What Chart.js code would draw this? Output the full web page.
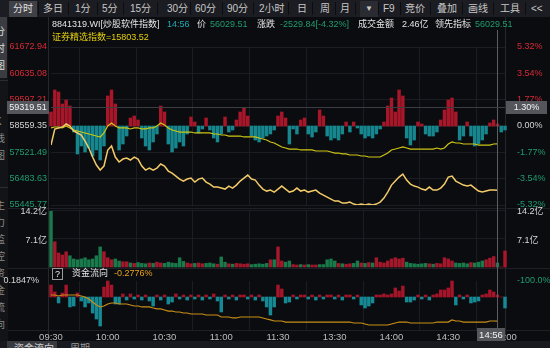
<!DOCTYPE html>
<html>
<head>
<meta charset="utf-8">
<script src="https://cdn.jsdelivr.net/npm/chart.js@4.4.1/dist/chart.umd.min.js"></script>
<style>
  body { margin: 0; width: 550px; height: 348px; overflow: hidden; position: relative; background: #0b0c10;
         font-family: "Liberation Sans", "Noto Sans CJK SC", sans-serif; }
  canvas { position: absolute; left: 0; }
  .t { position: absolute; white-space: nowrap; font-size: 9px; line-height: 12px; color: #e4e4e4; }
  #toolbar { position: absolute; left: 0; top: 0; width: 550px; height: 17px; background: #1c1d22; }
  #toolbar span { position: absolute; top: 0; line-height: 17px; font-size: 10px; color: #c8c8c8; }
  #toolbar i { position: absolute; top: 2px; width: 1px; height: 13px; background: #0c0d10; }
  #side { position: absolute; left: 0; top: 17px; width: 8px; height: 324px; background: #131418; overflow: hidden; }
  .vt { position: absolute; left: -5px; font-size: 10px; line-height: 17px; color: #8a8a8a; }
  .hl { position: absolute; height: 1px; background: #1e2026; }
  .vl { position: absolute; width: 1px; background: #25272d; }
  #bottom { position: absolute; left: 0; top: 341px; width: 550px; height: 7px; background: #191a1f; overflow: hidden; }
</style>
</head>
<body>

<div id="toolbar">
  <div style="position:absolute;left:9px;top:1px;width:28px;height:16px;background:#404147"></div>
  <div style="position:absolute;left:360px;top:1px;width:18px;height:16px;background:#2b2c31"></div>
  <span style="left:13px;color:#e0e0e0">分时</span>
  <i style="left:38px"></i><span style="left:43px">多日</span>
  <i style="left:68px"></i><span style="left:75px">1分</span>
  <i style="left:97px"></i><span style="left:102px">5分</span>
  <i style="left:123px"></i><span style="left:130px">15分</span>
  <i style="left:157px"></i><span style="left:167px">30分</span>
  <i style="left:190px"></i><span style="left:195px">60分</span>
  <i style="left:222px"></i><span style="left:227px">90分</span>
  <i style="left:253px"></i><span style="left:259px">2小时</span>
  <i style="left:288px"></i><span style="left:297px">日</span>
  <i style="left:312px"></i><span style="left:320px">周</span>
  <i style="left:335px"></i><span style="left:340px">月</span>
  <i style="left:355px"></i><span style="left:365px;font-size:8px">▼</span>
  <i style="left:378px"></i><span style="left:383px">F9</span>
  <i style="left:400px"></i><span style="left:405px">竞价</span>
  <i style="left:430px"></i><span style="left:437px">叠加</span>
  <i style="left:462px"></i><span style="left:468px">画线</span>
  <i style="left:493px"></i><span style="left:500px">工具</span>
  <i style="left:525px"></i><span style="left:531px">&lt;&lt;</span>
</div>

<div id="side">
  <div style="position:absolute;left:0;top:0;width:7px;height:61px;background:#3b3c42"></div>
  <div class="vt" style="top:6px;color:#dcdcdc">分<br>时<br>图</div>
  <div class="hl" style="left:0;top:63px;width:8px;background:#2a2b30"></div>
  <div class="vt" style="top:96px">K<br>线<br>图</div>
  <div class="hl" style="left:0;top:170px;width:8px;background:#2a2b30"></div>
  <div class="vt" style="top:180px">主<br>力<br>监<br>控</div>
  <div class="vt" style="top:248px">资<br>金<br>流<br>向</div>
</div>

<div class="vl" style="left:48px;top:17px;height:324px"></div>
<div class="vl" style="left:505px;top:17px;height:324px"></div>
<div class="hl" style="left:8px;top:208px;width:542px"></div>
<div class="hl" style="left:8px;top:268px;width:542px"></div>
<div class="hl" style="left:8px;top:330px;width:542px"></div>

<canvas id="cPrice" width="550" height="195" style="top:28px"></canvas>
<canvas id="cVol" width="550" height="80" style="top:198px"></canvas>
<canvas id="cFlow" width="550" height="80" style="top:268px"></canvas>

<div class="t" style="left:52px;top:18px">8841319.WI[炒股软件指数]</div>
<div class="t" style="left:167px;top:18px;color:#25a7b3">14:56</div>
<div class="t" style="left:197px;top:18px">价</div>
<div class="t" id="lastPx" style="left:210px;top:18px;color:#1f9c6e"></div>
<div class="t" style="left:257px;top:18px">涨跌</div>
<div class="t" id="chg" style="left:280px;top:18px;color:#1f9c6e"></div>
<div class="t" style="left:358px;top:18px">成交金额</div>
<div class="t" style="left:402px;top:18px">2.46亿</div>
<div class="t" style="left:435px;top:18px">领先指标</div>
<div class="t" id="leadPx" style="left:475px;top:18px;color:#1f9c6e"></div>
<div class="t" id="ovTxt" style="left:52px;top:31px;color:#e2cf0c"></div>

<div style="position:absolute;left:52px;top:268px;width:9px;height:10px;border:1px solid #9a9a9a;color:#eee;font-size:9px;line-height:10px;text-align:center">?</div>
<div class="t" style="left:72px;top:267px">资金流向</div>
<div class="t" id="flowTxt" style="left:114px;top:267px;color:#e9a21a"></div>

<div id="bottom">
  <div style="position:absolute;left:7px;top:0;width:50px;height:7px;background:#393a40"></div>
  <div class="t" style="left:14px;top:2px;font-size:10px;color:#cfcfcf">资金流向</div>
  <div class="t" style="left:70px;top:2px;font-size:10px;color:#9a9a9a">周期</div>
</div>

<script>
// ---- data: one sample every 2 minutes from 09:30 (240 trading minutes) ----
const prevClose = 58559.35;
const overlayPrevClose = 15997;
const crossMinute = 236;     // 14:56
const crossPrice = 59319.51;

const priceTicks = [61672.94, 60635.08, 59597.21, 58559.35, 57521.49, 56483.63, 55445.77];
const pctLabels = ['5.32%', '3.54%', '1.77%', '0.00%', '-1.77%', '-3.54%', '-5.32%'];
const volTicks = [7.1, 14.2];
const flowTicks = [0.1847];
const flowRightTicks = [-100];
const timeLabels = ['09:30', '10:00', '10:30', '11:00', '11:30', '13:30', '14:00', '14:30', '15:00'];

const price = [57810,58441,58480,58520,58638,58559,58362,58283,58204,57967,
  57691,57336,57020,56823,56981,57612,57770,57336,57139,57257,
  57297,57218,57336,57257,56981,56823,56902,56823,56902,57060,
  56981,56784,56705,56586,56468,56389,56468,56507,56350,56468,
  56507,56350,56271,56152,56152,56113,56073,56192,56113,56231,
  56389,56507,56626,56468,56429,56231,56073,55994,56034,55955,
  56073,56192,56073,55955,55994,56113,55994,56034,55955,55994,
  56034,55916,55837,55758,55679,55600,55600,55521,55521,55560,
  55482,55446,55482,55446,55482,55446,55482,55560,55718,55955,
  56231,56389,56547,56665,56429,56271,56192,56152,56073,56034,
  56152,56034,56034,56113,56271,56547,56586,56389,56310,56231,
  56192,56231,56113,55994,55955,55994,56034,56034,56029.51];

// 证券精选指数 overlay
const overlay = [15976,15986,15986,15976,15997,15976,15954,15943,15932,15922,
  15911,15900,15889,15879,15922,15997,16029,15997,15976,15976,
  15976,15965,15976,15976,15965,15965,15976,15976,15997,16029,
  16008,15976,15954,15943,15932,15932,15932,15932,15922,15922,
  15922,15922,15922,15911,15911,15900,15900,15889,15889,15889,
  15889,15879,15879,15879,15879,15868,15857,15846,15825,15814,
  15792,15771,15760,15749,15749,15749,15739,15739,15739,15739,
  15728,15728,15728,15728,15717,15706,15706,15696,15696,15685,
  15685,15685,15674,15674,15663,15663,15663,15663,15685,15706,
  15739,15749,15760,15771,15760,15749,15749,15749,15749,15749,
  15749,15749,15760,15749,15760,15803,15825,15814,15814,15803,
  15803,15803,15803,15792,15792,15792,15792,15803,15803.52];

// 领先指标 bars
const leadBars = [14,36,34,22,26,20,-6,-28,-20,-26,
  -22,-30,-24,-34,-20,30,36,22,-24,-18,
  -10,8,10,6,-12,-20,-24,-16,-8,20,
  14,-18,-26,-22,-16,-20,-8,9,4,-7,
  -3,8,-4,-12,-16,-8,9,-6,-4,6,
  14,18,10,-10,-14,-16,-12,-10,-8,-4,
  10,14,8,-18,-3,-8,6,8,-8,-11,
  -6,16,10,-10,-14,-12,-14,-8,4,-6,
  4,-2,-8,-12,-10,-12,-8,-3,4,20,
  28,14,36,30,-12,-19,-14,4,2,-8,
  -10,-10,-6,6,16,26,28,14,-14,-10,
  4,-10,-20,-18,-14,-8,3,6,2,-6,-4];

// 成交金额, 亿
const volume = [13.9,6.3,3.5,3.0,3.8,2.8,2.0,1.8,2.0,2.3,
  1.8,2.0,2.8,5.0,3.8,2.3,1.8,2.0,1.5,1.3,
  1.3,1.0,0.9,1.1,0.9,0.8,1.0,0.9,1.2,1.0,
  0.9,1.2,1.0,0.9,2.3,1.4,1.0,0.8,0.9,1.0,
  0.8,0.9,1.0,0.8,0.7,2.5,1.2,0.8,0.7,0.9,
  0.8,0.7,0.8,0.6,0.7,0.8,0.7,0.9,1.8,1.8,
  5.0,1.5,1.2,1.5,0.6,0.5,0.6,0.5,0.6,0.5,
  0.5,0.6,0.6,1.8,2.0,1.5,0.9,0.8,0.7,0.8,
  0.9,1.5,1.0,0.9,1.1,1.0,2.3,1.2,1.0,1.5,
  2.0,2.3,2.0,2.2,1.2,0.9,0.8,0.7,0.8,0.9,
  0.8,0.7,0.9,0.8,2.3,2.0,1.5,1.0,0.9,1.0,
  0.8,1.1,1.0,1.2,1.5,1.8,2.2,2.6,1.0,0,4.0];

// 资金流向 bars and cumulative line, %
const flowBars = [0.138,0.058,-0.069,0.046,0.138,-0.115,-0.104,0.046,-0.046,-0.115,
  -0.069,-0.185,-0.254,-0.335,0.115,0.1847,0.138,-0.081,-0.081,0.035,
  -0.035,0.035,-0.023,0.023,-0.035,0.023,-0.046,-0.104,0.023,-0.035,
  0.023,-0.081,-0.058,0.035,-0.023,0.023,-0.035,0.023,-0.023,0.023,
  -0.035,0.023,-0.023,0.035,-0.046,-0.173,0.023,-0.023,0.023,-0.035,
  0.023,0.023,-0.023,0.023,-0.035,0.023,-0.046,-0.115,-0.208,-0.115,
  0.138,0.092,-0.069,-0.058,0.023,-0.023,0.023,0.023,-0.023,0.023,
  -0.035,0.023,-0.023,0.023,0.023,-0.023,0.023,-0.035,0.023,0.023,
  -0.023,0.023,-0.092,-0.127,-0.104,-0.069,0.023,0.023,0.035,0.023,
  0.035,0.104,0.069,0.127,-0.058,-0.058,-0.035,0.023,-0.023,0.023,
  -0.035,0.023,0.035,0.081,0.081,0.104,0.1847,-0.092,0.023,-0.023,
  0.023,-0.069,-0.058,-0.046,0.023,0.035,0.081,0.058,0.023,0,-0.127];

const flowLine = [0.023,0.023,0.012,0.023,0.023,0.023,0.023,0.023,0.012,0,
  -0.023,-0.058,-0.092,-0.115,-0.104,-0.081,-0.069,-0.069,-0.081,-0.081,
  -0.081,-0.092,-0.104,-0.104,-0.115,-0.115,-0.115,-0.127,-0.138,-0.138,
  -0.150,-0.162,-0.162,-0.173,-0.173,-0.185,-0.185,-0.196,-0.196,-0.196,
  -0.196,-0.208,-0.208,-0.208,-0.208,-0.231,-0.231,-0.231,-0.242,-0.242,
  -0.231,-0.231,-0.231,-0.231,-0.231,-0.231,-0.242,-0.254,-0.265,-0.277,
  -0.277,-0.277,-0.289,-0.289,-0.289,-0.289,-0.289,-0.289,-0.289,-0.289,
  -0.289,-0.289,-0.289,-0.289,-0.289,-0.289,-0.289,-0.289,-0.289,-0.289,
  -0.300,-0.300,-0.300,-0.312,-0.323,-0.323,-0.323,-0.323,-0.323,-0.323,
  -0.312,-0.300,-0.289,-0.289,-0.289,-0.300,-0.300,-0.300,-0.300,-0.300,
  -0.300,-0.300,-0.289,-0.289,-0.289,-0.289,-0.265,-0.277,-0.277,-0.289,
  -0.289,-0.289,-0.289,-0.289,-0.289,-0.289,-0.277,-0.277,-0.2776];

// ---- header texts from the data ----
const last = price[price.length - 1];
const chg = last - prevClose;
document.getElementById('lastPx').textContent = last.toFixed(2);
document.getElementById('leadPx').textContent = last.toFixed(2);
document.getElementById('chg').textContent = chg.toFixed(2) + '[' + (chg / prevClose * 100).toFixed(2) + '%]';
document.getElementById('ovTxt').textContent = '证券精选指数=' + overlay[overlay.length - 1].toFixed(2);
document.getElementById('flowTxt').textContent = flowLine[flowLine.length - 1].toFixed(4) + '%';

// ---- chart setup ----
Chart.defaults.font.family = '"Liberation Sans", "Noto Sans CJK SC", sans-serif';
Chart.defaults.font.size = 9;

const UP = '#d62a36', DOWN = '#1f9c6e', FLAT = '#d4d4d4';
const BAR_RED = '#a8162a', BAR_TEAL = '#16878e';
const GRID = '#1b1d23';
const BAR_W = 2.8;

const pts = arr => arr.map((v, i) => ({ x: i * 2, y: v }));
const tickColor = c => c.tick.value > prevClose + 0.01 ? UP : (c.tick.value < prevClose - 0.01 ? DOWN : FLAT);
const range = priceTicks[0] / prevClose - 1;

const hiddenX = () => ({
  type: 'linear', min: 0, max: 240, offset: false,
  ticks: { display: false, stepSize: 30 },
  grid: { color: GRID, drawTicks: false },
  border: { display: false },
  afterFit: s => { s.height = 0; }
});

const crosshair = {
  id: 'crosshair',
  afterDraw(chart, args, opts) {
    const { ctx, chartArea: a, scales } = chart;
    const x = Math.round(scales.x.getPixelForValue(crossMinute)) + 0.5;
    ctx.save();
    ctx.lineWidth = 1;
    ctx.strokeStyle = '#5d5e64';
    ctx.beginPath();
    ctx.moveTo(x, opts.top || 0);
    ctx.lineTo(x, opts.badge ? a.bottom : chart.height);
    ctx.stroke();
    ctx.font = '9px "Liberation Sans"';
    ctx.textBaseline = 'middle';
    ctx.textAlign = 'center';
    if (opts.price) {
      const y = Math.round(scales.y.getPixelForValue(crossPrice)) + 0.5;
      ctx.strokeStyle = '#3c3d43';
      ctx.beginPath(); ctx.moveTo(a.left, y); ctx.lineTo(a.right, y); ctx.stroke();
      ctx.fillStyle = '#55565c';
      ctx.fillRect(7, y - 6.5, a.left - 9, 13);
      ctx.fillRect(a.right + 1, y - 6.5, 41, 13);
      ctx.fillStyle = '#f2f2f2';
      ctx.fillText(crossPrice.toFixed(2), 7 + (a.left - 9) / 2, y);
      ctx.fillText(((crossPrice / prevClose - 1) * 100).toFixed(2) + '%', a.right + 21.5, y);
    }
    if (opts.badge) {
      const w = 28;
      const bx = Math.min(x - w / 2, a.right - w);
      ctx.fillStyle = '#55565c';
      ctx.fillRect(bx, a.bottom - 2, w, 14);
      ctx.fillStyle = '#f2f2f2';
      ctx.font = '9.5px "Liberation Sans"';
      ctx.fillText(timeLabels[7].slice(0, 3) + '56', bx + w / 2, a.bottom + 5);
    }
    ctx.restore();
  }
};

// Price panel
new Chart(document.getElementById('cPrice'), {
  type: 'bar',
  data: {
    datasets: [
      { type: 'line', label: 'price', data: pts(price), yAxisID: 'y', borderColor: '#f3ca68', borderWidth: 1.5,
        pointRadius: 0, tension: 0, order: 1 },
      { type: 'line', label: 'overlay', data: pts(overlay), yAxisID: 'yOv', borderColor: '#cdc614', borderWidth: 1.2,
        pointRadius: 0, tension: 0, order: 2 },
      { label: 'lead', data: pts(leadBars), yAxisID: 'yLead', barThickness: BAR_W, clip: 3, order: 3,
        backgroundColor: c => (c.raw && c.raw.y >= 0) ? BAR_RED : BAR_TEAL }
    ]
  },
  options: {
    responsive: false, animation: false, devicePixelRatio: 1, events: [],
    layout: { padding: { top: 19, bottom: 18, left: 0, right: 0 } },
    plugins: { legend: { display: false }, tooltip: { enabled: false }, crosshair: { price: true, top: 2 } },
    scales: {
      x: hiddenX(),
      y: {
        position: 'left', min: priceTicks[6], max: priceTicks[0],
        afterBuildTicks: s => { s.ticks = priceTicks.map(v => ({ value: v })); },
        afterFit: s => { s.width = 51; },
        ticks: { padding: 4, color: tickColor, callback: v => v.toFixed(2) },
        grid: { color: GRID, drawTicks: false },
        border: { display: false }
      },
      y2: {
        position: 'right', min: priceTicks[6], max: priceTicks[0],
        afterBuildTicks: s => { s.ticks = priceTicks.map(v => ({ value: v })); },
        afterFit: s => { s.width = 45; },
        ticks: { padding: 4, color: tickColor, callback: (v, i) => pctLabels[i] },
        grid: { display: false },
        border: { display: false }
      },
      yOv: { display: false, min: overlayPrevClose * (1 - range), max: overlayPrevClose * (1 + range) },
      yLead: { display: false, min: -79, max: 79 }
    }
  },
  plugins: [crosshair]
});

// Volume panel
new Chart(document.getElementById('cVol'), {
  type: 'bar',
  data: {
    datasets: [{
      label: 'volume', data: pts(volume), barThickness: BAR_W, clip: 3,
      backgroundColor: volume.map((v, i) => {
        if (i >= price.length) return BAR_RED;
        const ref = i === 0 ? prevClose : price[i - 1];
        return price[i] >= ref ? '#a3182b' : '#197a4b';
      })
    }]
  },
  options: {
    responsive: false, animation: false, devicePixelRatio: 1, events: [],
    layout: { padding: { top: 12, bottom: 11, left: 0, right: 0 } },
    plugins: { legend: { display: false }, tooltip: { enabled: false }, crosshair: {} },
    scales: {
      x: hiddenX(),
      y: {
        position: 'left', min: 0, max: volTicks[1],
        afterBuildTicks: s => { s.ticks = volTicks.map(v => ({ value: v })); },
        afterFit: s => { s.width = 51; },
        ticks: { padding: 4, color: '#d8d8d8', labelOffset: 2, callback: v => v + '亿' },
        grid: { color: GRID, drawTicks: false },
        border: { display: false }
      },
      y2: {
        position: 'right', min: 0, max: volTicks[1],
        afterBuildTicks: s => { s.ticks = volTicks.map(v => ({ value: v })); },
        afterFit: s => { s.width = 45; },
        ticks: { padding: 4, color: '#d8d8d8', labelOffset: 2, callback: v => v + '亿' },
        grid: { display: false },
        border: { display: false }
      }
    }
  },
  plugins: [crosshair]
});

// Money flow panel with the time axis
new Chart(document.getElementById('cFlow'), {
  type: 'bar',
  data: {
    datasets: [
      { type: 'line', label: 'flow', data: pts(flowLine), borderColor: '#c98e14', borderWidth: 1.2,
        pointRadius: 0, tension: 0, order: 0 },
      { label: 'flowBars', data: pts(flowBars), barThickness: BAR_W, clip: 3, order: 1,
        backgroundColor: c => (c.raw && c.raw.y >= 0) ? '#a5152a' : '#168a94' }
    ]
  },
  options: {
    responsive: false, animation: false, devicePixelRatio: 1, events: [],
    layout: { padding: { top: 13, bottom: 6, left: 0, right: 0 } },
    plugins: { legend: { display: false }, tooltip: { enabled: false }, crosshair: { badge: true } },
    scales: {
      x: {
        type: 'linear', min: 0, max: 240, offset: false,
        ticks: { stepSize: 30, autoSkip: false, maxRotation: 0, padding: 2, color: '#bdbdbd',
                 font: { size: 9.5 }, callback: v => timeLabels[v / 30] },
        grid: { color: GRID, drawTicks: false },
        border: { display: false },
        afterFit: s => { s.height = 12; }
      },
      y: {
        position: 'left', min: -0.381, max: flowTicks[0],
        afterBuildTicks: s => { s.ticks = flowTicks.map(v => ({ value: v })); },
        afterFit: s => { s.width = 51; },
        ticks: { padding: 4, color: '#d8d8d8', callback: v => v.toFixed(4) + '%' },
        grid: { display: false },
        border: { display: false }
      },
      yR: {
        position: 'right', min: -200, max: flowRightTicks[0],
        afterBuildTicks: s => { s.ticks = flowRightTicks.map(v => ({ value: v })); },
        afterFit: s => { s.width = 45; },
        ticks: { padding: 4, color: DOWN, callback: v => v.toFixed(1) + '%' },
        grid: { display: false },
        border: { display: false }
      }
    }
  },
  plugins: [crosshair]
});
</script>
</body>
</html>
